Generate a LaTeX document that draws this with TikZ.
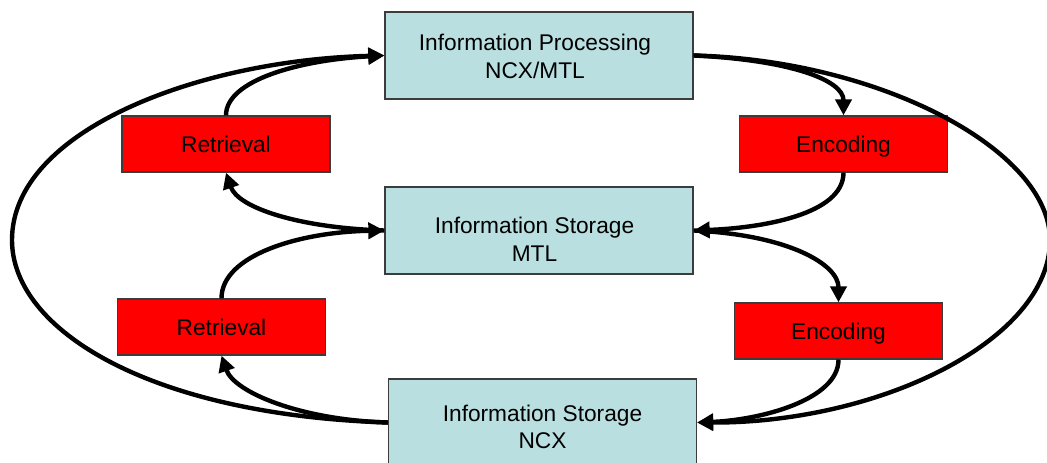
\documentclass[tikz,border=0pt]{standalone}
\usepackage{fontspec}
\setmainfont{Liberation Sans}
\usetikzlibrary{arrows.meta}
\definecolor{storefill}{RGB}{185,223,225}
\definecolor{boxedge}{RGB}{60,60,60}
\begin{document}
\begin{tikzpicture}[x=1pt,y=-1pt,
  store/.style={draw=boxedge, line width=1.3pt, fill=storefill,
    minimum width=308pt, minimum height=87pt, inner sep=0pt},
  stage/.style={draw=boxedge, line width=1.3pt, fill=red,
    minimum width=208pt, minimum height=56pt, inner sep=0pt,
    font=\fontsize{22.7}{28}\selectfont, text height=16.3pt, text depth=0pt},
  caption/.style={anchor=base, inner sep=0pt, font=\fontsize{22.7}{28}\selectfont},
  flow/.style={line width=4.4pt, -{Triangle[length=16pt,width=16pt]}}]
\useasboundingbox (0,0) rectangle (1047,463);

% storage and processing boxes
\node[store] (proc) at (539,55.5) {};
\node[store] (mid) at (539,230.5) {};
\node[store] (ncx) at (542.5,422.5) {};

% retrieval / encoding stages
\node[stage] (ret1) at (226,144) {Retrieval};
\node[stage] (enc1) at (843.5,144) {Encoding};
\node[stage] (ret2) at (221.5,327) {Retrieval};
\node[stage] (enc2) at (838.5,331) {Encoding};

% box captions
\node[caption] (procA) at (535,50) {Information Processing};
\node[caption] (procB) at (535,78) {NCX/MTL};
\node[caption] (midA) at (534.5,233) {Information Storage};
\node[caption] (midB) at (534.5,261) {MTL};
\node[caption] (ncxA) at (542.5,421) {Information Storage};
\node[caption] (ncxB) at (542.5,448) {NCX};

% outer loops
\draw[flow] (ncx.west) .. controls (150,415) and (12,330) .. (12,240)
  .. controls (12,130) and (200,60) .. (proc.west);
\draw[flow] (proc.east) .. controls (880,60) and (1050,150) .. (1050,240)
  .. controls (1050,340) and (880,423) .. (ncx.east);

% encoding side
\draw[flow] (proc.east) .. controls (790,60) and (843.5,80) .. (enc1.north);
\draw[flow] (enc1.south) .. controls (843.5,215) and (760,228) .. (mid.east);
\draw[flow] (mid.east) .. controls (790,235) and (838.5,265) .. (enc2.north);
\draw[flow] (enc2.south) .. controls (838.5,400) and (760,420) .. (ncx.east);

% retrieval side
\draw[flow] (ret1.north) .. controls (226,80) and (300,60) .. (proc.west);
\draw[flow] (mid.west) .. controls (300,228) and (238,208) .. (ret1.south);
\draw[flow] (ret2.north) .. controls (221.5,255) and (300,232) .. (mid.west);
\draw[flow] (ncx.west) .. controls (300,420) and (234,392) .. (ret2.south);
\end{tikzpicture}
\end{document}
